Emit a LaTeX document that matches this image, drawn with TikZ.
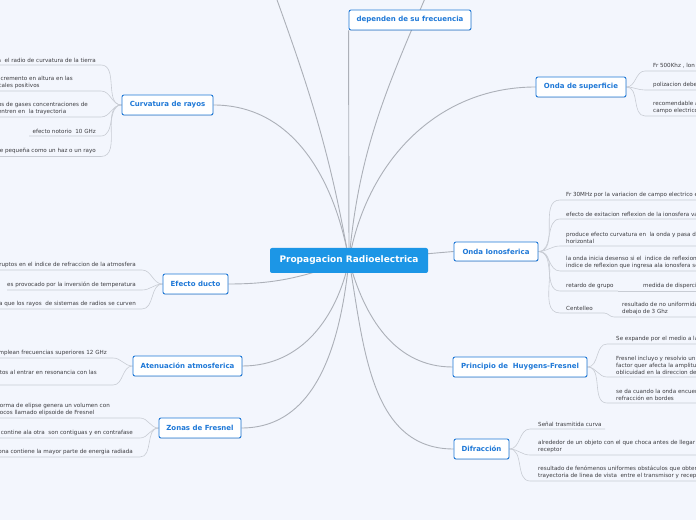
\documentclass[tikz,border=0pt]{standalone}
\usepackage{fontspec}
\setmainfont{DejaVu Sans}
\usetikzlibrary{backgrounds,shadows}
\definecolor{bgblue}{RGB}{243,246,253}
\definecolor{rootblue}{RGB}{28,150,230}
\definecolor{topicblue}{RGB}{30,120,215}
\definecolor{linkgray}{RGB}{172,176,184}
\definecolor{leafline}{RGB}{200,204,212}
\definecolor{leafgray}{RGB}{60,60,64}

\begin{document}
\begin{tikzpicture}[x=1pt,y=1pt]
\tikzset{root/.style = {fill=rootblue, rounded corners=2pt, text=white,
		font=\fontsize{9}{10}\selectfont\bfseries,
		minimum width=158pt, minimum height=25pt}}
\tikzset{topic/.style = {draw=topicblue, line width=0.9pt, fill=white,
		rounded corners=2pt, text=topicblue,
		font=\fontsize{7}{8}\selectfont\bfseries, minimum height=20pt,
		drop shadow={shadow xshift=0.4pt, shadow yshift=-0.7pt, opacity=0.25}}}
\tikzset{leaf/.style = {inner sep=0pt, align=left, text=leafgray,
		font=\fontsize{5.6}{6.9}\selectfont}}
\tikzset{link/.style = {draw=linkgray, line width=0.9pt}}
\tikzset{sublink/.style = {draw=leafline, line width=0.6pt}}
\useasboundingbox (0,0) rectangle (696,520);
\clip (0,0) rectangle (696,520);

% main nodes
\node[root] (ctr) at (349,259.5) {Propagacion Radioelectrica};
\node[topic, minimum width=122pt] (dep) at (410,500) {dependen de su frecuencia};
\node[topic, minimum width=91pt] (cr) at (167.5,415) {Curvatura de rayos};
\node[topic, minimum width=65pt] (ed) at (195.5,236) {Efecto ducto};
\node[topic, minimum width=109pt] (at) at (187.5,154) {Atenuación atmosferica};
\node[topic, minimum width=82pt] (zf) at (200,92) {Zonas de Fresnel};
\node[topic, minimum width=90pt] (os) at (581,433) {Onda de superficie};
\node[topic, minimum width=84pt, minimum height=19pt] (oi) at (496,268.5) {Onda Ionosferica};
\node[topic, minimum width=134pt] (hf) at (520,153) {Principio de \ Huygens-Fresnel};
\node[topic, minimum width=55pt] (df) at (481.5,71) {Difracción};
\coordinate (offl) at (268,545);
\coordinate (offr) at (435,545);

% leaves, left side
\coordinate (cr1u) at (101,455);
\coordinate (cr2u) at (101,429);
\coordinate (cr3u) at (101,403);
\coordinate (cr4u) at (101,384);
\coordinate (cr5u) at (101,363.5);
\node[leaf, anchor=south east] (cr1) at (96,457.5) {a \ el radio de curvatura de la tierra};
\node[leaf, anchor=south east] (cr2) at (73,431.5) {ncremento en altura en las\\icales positivos};
\node[leaf, anchor=south east] (cr3) at (88,405.5) {os de gases concentraciones de\\entren en \ la trayectoria};
\node[leaf, anchor=south east] (cr4) at (96,386.5) {efecto notorio \ 10 GHz};
\node[leaf, anchor=south east] (cr5) at (96,366) {e pequeña como un haz o un rayo};

\coordinate (ed1u) at (142,250);
\coordinate (ed2u) at (142,230);
\coordinate (ed3u) at (142,211);
\node[leaf, anchor=south east] (ed1) at (136,252.5) {ruptos en el indice de refraccion de la atmosfera};
\node[leaf, anchor=south east] (ed2) at (136,232.5) {es provocado por la inversión de temperatura};
\node[leaf, anchor=south east] (ed3) at (136,213.5) {a que los rayos \ de sistemas de radios se curven};

\coordinate (at1u) at (113,162);
\coordinate (at2u) at (113,135);
\node[leaf, anchor=south east] (at1) at (107,164.5) {mplean frecuencias superiores 12 GHz};
\node[leaf, anchor=south east] (at2) at (97,145) {itos al entrar en resonancia con las};

\coordinate (zf1u) at (140,102);
\coordinate (zf2u) at (140,82);
\coordinate (zf3u) at (140,63);
\node[leaf, anchor=south east] (zf1) at (110,104.5) {forma de elipse genera un volumen con\\focos llamado elipsoide de Fresnel};
\node[leaf, anchor=south east] (zf2) at (133,84.5) {a contine ala otra \ son contiguas y en contrafase};
\node[leaf, anchor=south east] (zf3) at (133,65.5) {zona contiene la mayor parte de energia radiada};

% leaves, right side
\coordinate (os1u) at (645,449);
\coordinate (os2u) at (645,430);
\coordinate (os3u) at (645,404);
\node[leaf, anchor=south west] (os1) at (653,451.5) {Fr 500Khz , lon};
\node[leaf, anchor=south west] (os2) at (653,432.5) {polizacion debe};
\node[leaf, anchor=south west] (os3) at (653,406.5) {recomendable a\\campo electrico};

\coordinate (oi1u) at (560,320);
\coordinate (oi2u) at (560,301);
\coordinate (oi3u) at (560,274);
\coordinate (oi4u) at (560,249);
\coordinate (oi5u) at (560,229);
\coordinate (oi5e) at (618,229);
\coordinate (oi6u) at (560,207);
\coordinate (oi6e) at (604,207);
\coordinate (oi6au) at (614,203);
\node[leaf, anchor=south west] (oi1) at (566,322.5) {Fr 30MHz por la variacion de campo electrico e};
\node[leaf, anchor=south west] (oi2) at (566,303.5) {efecto de exitacion reflexion de la ionosfera va};
\node[leaf, anchor=south west] (oi3) at (566,276.5) {produce efecto curvatura en \ la onda y pasa de\\horizontal};
\node[leaf, anchor=south west] (oi4) at (566,251.5) {la onda inicia desenso si el \ indice de reflexion c\\indice de reflexion que ingresa ala ionosfera so};
\node[leaf, anchor=south west] (oi5) at (566,231.5) {retardo de grupo};
\node[leaf, anchor=south west] (oi5a) at (643,231.5) {medida de dispercio};
\node[leaf, anchor=south west] (oi6) at (566,209.5) {Centelleo};
\node[leaf, anchor=south west] (oi6a) at (622,205.5) {resultado de no uniformida\\debajo de 3 Ghz};

\coordinate (hf1u) at (607,176);
\coordinate (hf2u) at (607,143);
\coordinate (hf3u) at (607,117);
\node[leaf, anchor=south west] (hf1) at (616,178.5) {Se expande por el medio a la};
\node[leaf, anchor=south west] (hf2) at (616,145.5) {Fresnel incluyo y resolvio un\\factor quer afecta la amplitu\\oblicuidad en la direccion de};
\node[leaf, anchor=south west] (hf3) at (616,119.5) {se da cuando la onda encuen\\refracción en bordes};

\coordinate (df1u) at (530,91);
\coordinate (df2u) at (530,65);
\coordinate (df3u) at (530,39);
\node[leaf, anchor=south west] (df1) at (538,93.5) {Señal trasmitida curva};
\node[leaf, anchor=south west] (df2) at (538,67.5) {alrededor de un objeto con el que choca antes de llegar a\\receptor};
\node[leaf, anchor=south west] (df3) at (538,41.5) {resultado de fenómenos uniformes obstáculos que obteng\\trayectoria de linea de vista \ entre el transmisor y recept};

\begin{scope}[on background layer]
\clip (0,0) rectangle (696,520);
\fill[bgblue] (0,0) rectangle (696,520);
% edges from the root
\draw[link] (ctr.center) -- (dep.south west);
\draw[link] (ctr.center) to[out=100,in=-70] (offl);
\draw[link] (ctr.center) to[out=85,in=-113] (offr);
\draw[link] (ctr.center) to[out=100,in=0] (cr.east);
\draw[link] (ctr.center) to[out=200,in=0] (ed.east);
\draw[link] (ctr.center) to[out=258,in=0] (at.east);
\draw[link] (ctr.center) to[out=264,in=0] (zf.east);
\draw[link] (ctr.center) to[out=80,in=180] (os.west);
\draw[link] (ctr.center) -- (oi.west);
\draw[link] (ctr.center) to[out=285,in=180] (hf.west);
\draw[link] (ctr.center) to[out=280,in=180] (df.west);

% edges to the leaves
\draw[sublink] (cr.west) to[out=180,in=0] (cr1u) -- ++(-110,0);
\draw[sublink] (cr.west) to[out=180,in=0] (cr2u) -- ++(-110,0);
\draw[sublink] (cr.west) to[out=180,in=0] (cr3u) -- ++(-110,0);
\draw[sublink] (cr.west) to[out=180,in=0] (cr4u) -- (29,384);
\draw[sublink] (cr.west) to[out=180,in=0] (cr5u) -- ++(-110,0);

\draw[sublink] (ed.west) to[out=180,in=0] (ed1u) -- ++(-150,0);
\draw[sublink] (ed.west) to[out=180,in=0] (ed2u) -- (7,230);
\draw[sublink] (ed.west) to[out=180,in=0] (ed3u) -- ++(-150,0);

\draw[sublink] (at.west) to[out=180,in=0] (at1u) -- ++(-120,0);
\draw[sublink] (at.west) to[out=180,in=0] (at2u) -- ++(-120,0);

\draw[sublink] (zf.west) to[out=180,in=0] (zf1u) -- ++(-150,0);
\draw[sublink] (zf.west) to[out=180,in=0] (zf2u) -- ++(-150,0);
\draw[sublink] (zf.west) to[out=180,in=0] (zf3u) -- ++(-150,0);

\draw[sublink] (os.east) to[out=0,in=180] (os1u) -- ++(60,0);
\draw[sublink] (os.east) to[out=0,in=180] (os2u) -- ++(60,0);
\draw[sublink] (os.east) to[out=0,in=180] (os3u) -- ++(60,0);

\draw[sublink] (oi.east) to[out=0,in=180] (oi1u) -- ++(140,0);
\draw[sublink] (oi.east) to[out=0,in=180] (oi2u) -- ++(140,0);
\draw[sublink] (oi.east) to[out=0,in=180] (oi3u) -- ++(140,0);
\draw[sublink] (oi.east) to[out=0,in=180] (oi4u) -- ++(140,0);
\draw[sublink] (oi.east) to[out=0,in=180] (oi5u) -- (oi5e);
\draw[sublink] (oi5e) -- ++(90,0);
\draw[sublink] (oi.east) to[out=0,in=180] (oi6u) -- (oi6e);
\draw[sublink] (oi6e) to[out=0,in=180] (oi6au) -- ++(90,0);

\draw[sublink] (hf.east) to[out=0,in=180] (hf1u) -- ++(90,0);
\draw[sublink] (hf.east) to[out=0,in=180] (hf2u) -- ++(90,0);
\draw[sublink] (hf.east) to[out=0,in=180] (hf3u) -- ++(90,0);

\draw[sublink] (df.east) to[out=0,in=180] (df1u) -- (605,91);
\draw[sublink] (df.east) to[out=0,in=180] (df2u) -- ++(170,0);
\draw[sublink] (df.east) to[out=0,in=180] (df3u) -- ++(170,0);
\end{scope}
\end{tikzpicture}
\end{document}
